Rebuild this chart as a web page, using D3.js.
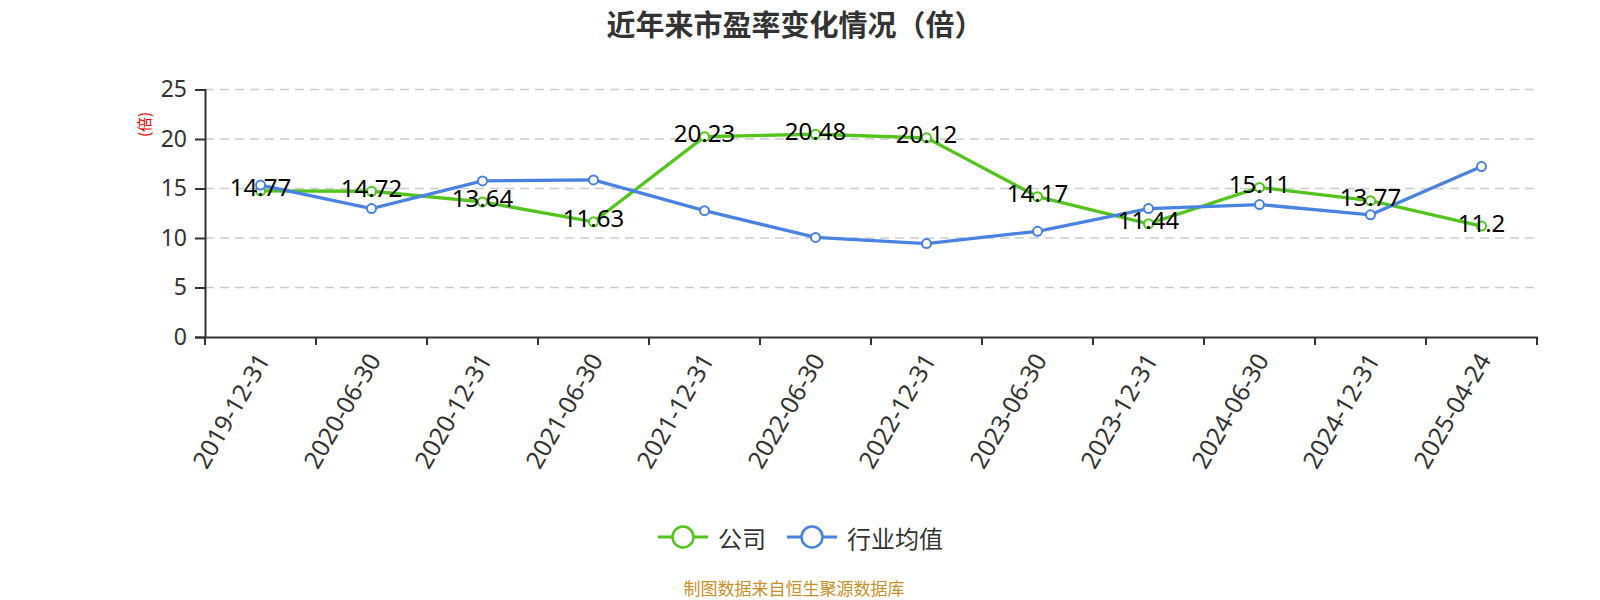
<!DOCTYPE html>
<html><head><meta charset="utf-8">
<script src="https://cdn.jsdelivr.net/npm/d3@7/dist/d3.min.js"></script>
<style>body{margin:0;background:#fff;font-family:"Noto Sans CJK SC","Noto Sans",sans-serif;}</style>
</head><body><svg id="c" width="1600" height="600"></svg>
<script>
const categories = ["2019-12-31","2020-06-30","2020-12-31","2021-06-30","2021-12-31","2022-06-30","2022-12-31","2023-06-30","2023-12-31","2024-06-30","2024-12-31","2025-04-24"];
const companyValues = [14.77,14.72,13.64,11.63,20.23,20.48,20.12,14.17,11.44,15.11,13.77,11.2];
const industryValues = [15.35,12.97,15.77,15.87,12.76,10.06,9.44,10.68,12.97,13.38,12.34,17.22];
const yTicks = [0,5,10,15,20,25];
const seriesNames = ["公司","行业均值"];

const svg = d3.select("#c");
const L=205, R=1537, T=89.5, B=337;
const x = d3.scaleBand().domain(categories).range([L,R]);
const y = d3.scaleLinear().domain([0,25]).range([B,T]);
const colors = ["#52c41a","#4a82e2"];
const font = '"Noto Sans CJK SC","Noto Sans",sans-serif';
const numFont = '"Noto Sans","Noto Sans CJK SC",sans-serif';

// title
svg.append("text").attr("x",795).attr("y",23).attr("text-anchor","middle").attr("dominant-baseline","central")
  .attr("font-size",29).attr("font-weight","bold").attr("fill","#333").attr("font-family",font)
  .text("近年来市盈率变化情况（倍）");

// grid
svg.append("g").selectAll("line").data(yTicks.filter(d=>d>0)).join("line")
  .attr("x1",L).attr("x2",R).attr("y1",d=>y(d)).attr("y2",d=>y(d))
  .attr("stroke","#ccc").attr("stroke-width",1.5).attr("stroke-dasharray","9,6");

// y axis
const ya = svg.append("g").attr("transform",`translate(${L},0)`)
  .call(d3.axisLeft(y).tickValues(yTicks).tickSize(10).tickPadding(8));
ya.select(".domain").attr("stroke","#333").attr("stroke-width",2);
ya.selectAll(".tick line").attr("stroke","#333").attr("stroke-width",2);
ya.selectAll("text").attr("font-size",23).attr("fill","#333").attr("font-family",numFont);

// x axis
const xa = svg.append("g").attr("transform",`translate(0,${B})`)
  .call(d3.axisBottom(x).tickSize(0).tickPadding(0));
xa.select(".domain").attr("stroke","#333").attr("stroke-width",2);
xa.selectAll(".tick text").remove();
const edges = categories.map(c=>x(c)).concat([R]);
xa.selectAll(".edge").data(edges).join("line").attr("class","edge")
  .attr("x1",d=>d).attr("x2",d=>d).attr("y1",0).attr("y2",8).attr("stroke","#333").attr("stroke-width",2);
svg.append("g").selectAll("text").data(categories).join("text")
  .attr("transform",d=>`translate(${x(d)+x.bandwidth()/2+2},${B+18}) rotate(-60)`)
  .attr("text-anchor","end").attr("dominant-baseline","central")
  .attr("font-size",24.5).attr("fill","#333").attr("font-family",numFont).text(d=>d);

// y axis name
svg.append("text").attr("transform","translate(143,124.5) rotate(-90)")
  .attr("text-anchor","middle").attr("dominant-baseline","central")
  .attr("font-size",15).attr("fill","#f00").attr("font-family",font).text("(倍)");

const cx = d=>x(d)+x.bandwidth()/2;
const line = d3.line().x((d,i)=>cx(categories[i])).y(d=>y(d));
[companyValues, industryValues].forEach((vals,k)=>{
  svg.append("path").datum(vals).attr("d",line).attr("fill","none")
    .attr("stroke",colors[k]).attr("stroke-width",3.3);
});
[companyValues, industryValues].forEach((vals,k)=>{
  svg.append("g").selectAll("circle").data(vals).join("circle")
    .attr("cx",(d,i)=>cx(categories[i])).attr("cy",d=>y(d)).attr("r",4.5)
    .attr("fill","#fff").attr("stroke",colors[k]).attr("stroke-width",2);
});
// labels for company
svg.append("g").selectAll("text").data(companyValues).join("text")
  .attr("x",(d,i)=>cx(categories[i])).attr("y",d=>y(d)-4)
  .attr("text-anchor","middle").attr("dominant-baseline","central")
  .attr("font-size",24).attr("fill","#000").attr("font-family",numFont).text(d=>d);

// legend
const lg = [{x:658,name:seriesNames[0],c:colors[0]},{x:787,name:seriesNames[1],c:colors[1]}];
lg.forEach(o=>{
  const g = svg.append("g");
  g.append("line").attr("x1",o.x).attr("x2",o.x+50).attr("y1",537).attr("y2",537).attr("stroke",o.c).attr("stroke-width",3);
  g.append("circle").attr("cx",o.x+25).attr("cy",537).attr("r",10.5).attr("fill","#fff").attr("stroke",o.c).attr("stroke-width",2.5);
  g.append("text").attr("x",o.x+60).attr("y",537).attr("dominant-baseline","central")
    .attr("font-size",24).attr("fill","#333").attr("font-family",font).text(o.name);
});

// footer
svg.append("text").attr("x",794).attr("y",587).attr("text-anchor","middle").attr("dominant-baseline","central")
  .attr("font-size",17).attr("fill","#c8902a").attr("font-family",font).text("制图数据来自恒生聚源数据库");
</script></body></html>
